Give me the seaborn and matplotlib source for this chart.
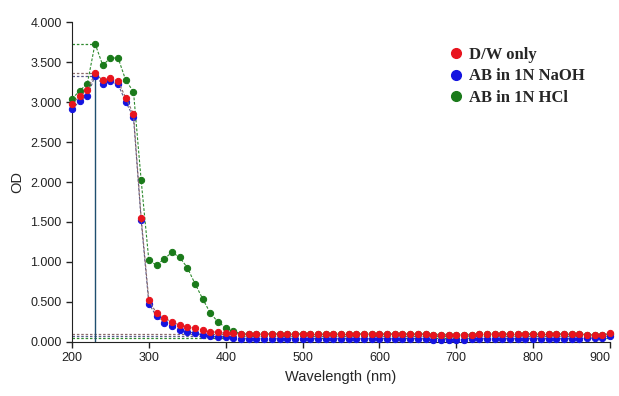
import pandas as pd
import matplotlib.pyplot as plt
import seaborn as sns

# comprimentos de onda (nm)
wavelength = list(range(200, 901, 10))

dw_only = [2.98, 3.07, 3.15, 3.36, 3.27, 3.30, 3.26, 3.05, 2.85, 1.55,
           0.52, 0.36, 0.30, 0.25, 0.21, 0.19, 0.17, 0.15, 0.13, 0.12,
           0.11, 0.11, 0.10, 0.10, 0.10, 0.10, 0.10, 0.10, 0.10, 0.10,
           0.10, 0.10, 0.10, 0.10, 0.10, 0.10, 0.10, 0.10, 0.10, 0.10,
           0.10, 0.10, 0.10, 0.10, 0.10, 0.10, 0.10, 0.09, 0.09, 0.09,
           0.09, 0.09, 0.09, 0.10, 0.10, 0.10, 0.10, 0.10, 0.10, 0.10,
           0.10, 0.10, 0.10, 0.10, 0.10, 0.10, 0.10, 0.09, 0.09, 0.09,
           0.11]
ab_naoh = [2.91, 3.01, 3.07, 3.33, 3.22, 3.26, 3.22, 3.00, 2.81, 1.52,
           0.48, 0.32, 0.24, 0.20, 0.15, 0.13, 0.11, 0.09, 0.07, 0.06,
           0.06, 0.05, 0.04, 0.04, 0.04, 0.04, 0.04, 0.04, 0.04, 0.04,
           0.04, 0.04, 0.04, 0.04, 0.04, 0.04, 0.04, 0.04, 0.04, 0.04,
           0.04, 0.04, 0.04, 0.04, 0.04, 0.04, 0.04, 0.03, 0.03, 0.03,
           0.03, 0.03, 0.04, 0.04, 0.04, 0.04, 0.04, 0.04, 0.04, 0.04,
           0.04, 0.04, 0.04, 0.04, 0.04, 0.04, 0.04, 0.05, 0.05, 0.05,
           0.07]
ab_hcl = [3.04, 3.14, 3.23, 3.73, 3.46, 3.55, 3.55, 3.27, 3.13, 2.02,
          1.02, 0.96, 1.04, 1.12, 1.06, 0.93, 0.73, 0.54, 0.36, 0.25,
          0.18, 0.14, 0.10, 0.10, 0.10, 0.10, 0.10, 0.10, 0.10, 0.10,
          0.10, 0.10, 0.10, 0.10, 0.10, 0.10, 0.10, 0.10, 0.10, 0.10,
          0.10, 0.10, 0.10, 0.10, 0.10, 0.10, 0.10, 0.09, 0.09, 0.09,
          0.09, 0.09, 0.09, 0.10, 0.10, 0.10, 0.10, 0.10, 0.10, 0.10,
          0.10, 0.10, 0.10, 0.10, 0.10, 0.10, 0.10, 0.09, 0.09, 0.09,
          0.10]

labels = ['D/W only', 'AB in 1N NaOH', 'AB in 1N HCl']
cores = ['#e8141e', '#1414e0', '#1a7a1a']
linhas = ['#8a6a6a', '#5a5a8a', '#2e8a2e']
pico = 230
base = [0.10, 0.075, 0.045]

sns.set_style('ticks')
plt.rcParams['font.family'] = ['Liberation Sans', 'DejaVu Sans']

fig = plt.figure(figsize=(6.19, 3.96), dpi=100)
ax = fig.add_axes([0.1163, 0.1364, 0.8692, 0.808])

series = [ab_hcl, ab_naoh, dw_only]
ordem = [2, 1, 0]
for i in ordem:
    df = pd.DataFrame({'wl': wavelength, 'od': series[ordem.index(i)]})
    sns.lineplot(data=df, x='wl', y='od', ax=ax, color=linhas[i], linestyle=(0, (2.5, 1.5)),
                 linewidth=0.8, marker='o', markersize=4.5, markerfacecolor=cores[i],
                 markeredgecolor=cores[i], clip_on=False, zorder=3 + (2 - i))

# linhas de referência
pk = {0: dw_only[3], 1: ab_naoh[3], 2: ab_hcl[3]}
for i in [2, 0, 1]:
    ax.plot([200, pico], [pk[i], pk[i]], linestyle=(0, (2, 1.5)), color=linhas[i], lw=0.9, zorder=2)
for i in range(3):
    ax.plot([200, 900], [base[i], base[i]], linestyle=(0, (2, 1.5)), color=linhas[i], lw=0.9, zorder=2)
ax.plot([pico, pico], [0, ab_naoh[3]], color='#1f4f6f', lw=1.0, zorder=2)

ax.set_xlim(200, 900)
ax.set_ylim(0, 4)
ax.set_xticks([200, 300, 400, 500, 600, 700, 800, 900])
ax.set_yticks([0, 0.5, 1, 1.5, 2, 2.5, 3, 3.5, 4])
ax.set_yticklabels([f'{v:.3f}' for v in ax.get_yticks()])
ax.tick_params(labelsize=9, length=4, width=1, colors='#222222')
ax.set_xlabel('Wavelength (nm)', fontsize=10.5)
ax.set_ylabel('OD', fontsize=10.5)
sns.despine(ax=ax)
for s in ['left', 'bottom']:
    ax.spines[s].set_color('#222222')
ax.get_xticklabels()[-1].set_horizontalalignment('right')
ax.get_xticklabels()[-1].set_x(0)

handles = [plt.Line2D([], [], marker='o', color=c, linestyle='none', markersize=7) for c in cores]
ax.legend(handles, labels, loc='upper left', bbox_to_anchor=(0.67, 0.97), frameon=False,
          prop={'family': 'Liberation Serif', 'weight': 'bold', 'size': 12},
          handletextpad=0.3, labelspacing=0.35, handlelength=1.0)

fig.savefig('out.png', dpi=100)
